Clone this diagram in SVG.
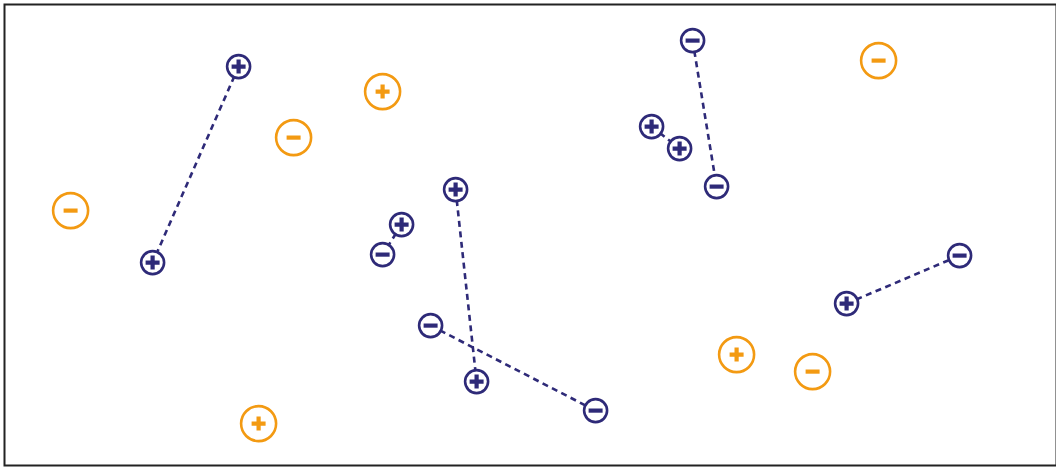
<svg xmlns="http://www.w3.org/2000/svg" width="1056" height="467" viewBox="0 0 1056 467">
<style>
.nc{fill:#fff;stroke:#2e2a78;stroke-width:2.6}
.ns{stroke:#2e2a78;stroke-width:4.2;fill:none}
.oc{fill:#fff;stroke:#f39a12;stroke-width:2.6}
.os{stroke:#f39a12;stroke-width:4.2;fill:none}
.c line{stroke:#2e2a78;stroke-width:2.6;stroke-dasharray:6 4.5}
</style>
<defs>
<g id="np"><circle class="nc" r="11.5"/><path class="ns" d="M-7 0H7M0-7V7"/></g>
<g id="nm"><circle class="nc" r="11.5"/><path class="ns" d="M-7 0H7"/></g>
<g id="op"><circle class="oc" r="17.5"/><path class="os" d="M-7 0H7M0-7V7"/></g>
<g id="om"><circle class="oc" r="17.5"/><path class="os" d="M-7 0H7"/></g>
</defs>
<rect x="4.5" y="4.5" width="1052" height="461" fill="#fff" stroke="#222" stroke-width="2"/>
<g transform="translate(0.6 0.6)">
<g class="c" id="connectors">
<line x1="238" y1="66" x2="152" y2="262"/>
<line x1="401" y1="224" x2="382" y2="254"/>
<line x1="455" y1="189" x2="476" y2="381"/>
<line x1="430" y1="325" x2="595" y2="410"/>
<line x1="692" y1="40" x2="716" y2="186"/>
<line x1="651" y1="126" x2="679" y2="148"/>
<line x1="846" y1="303" x2="959" y2="255"/>
</g>
<g id="p1"><use href="#np" x="238" y="66"/></g>
<g id="p2"><use href="#np" x="152" y="262"/></g>
<g id="p3"><use href="#np" x="455" y="189"/></g>
<g id="p4"><use href="#np" x="401" y="224"/></g>
<g id="p5"><use href="#np" x="476" y="381"/></g>
<g id="p6"><use href="#np" x="651" y="126"/></g>
<g id="p7"><use href="#np" x="679" y="148"/></g>
<g id="p8"><use href="#np" x="846" y="303"/></g>
<g id="m1"><use href="#nm" x="382" y="254"/></g>
<g id="m2"><use href="#nm" x="430" y="325"/></g>
<g id="m3"><use href="#nm" x="595" y="410"/></g>
<g id="m4"><use href="#nm" x="692" y="40"/></g>
<g id="m5"><use href="#nm" x="716" y="186"/></g>
<g id="m6"><use href="#nm" x="959" y="255"/></g>
<g id="op1"><use href="#op" x="382" y="91"/></g>
<g id="op2"><use href="#op" x="736" y="354"/></g>
<g id="op3"><use href="#op" x="258" y="423"/></g>
<g id="om1"><use href="#om" x="293" y="137"/></g>
<g id="om2"><use href="#om" x="70" y="210"/></g>
<g id="om3"><use href="#om" x="878" y="60"/></g>
<g id="om4"><use href="#om" x="812" y="371"/></g>
</g>
</svg>
